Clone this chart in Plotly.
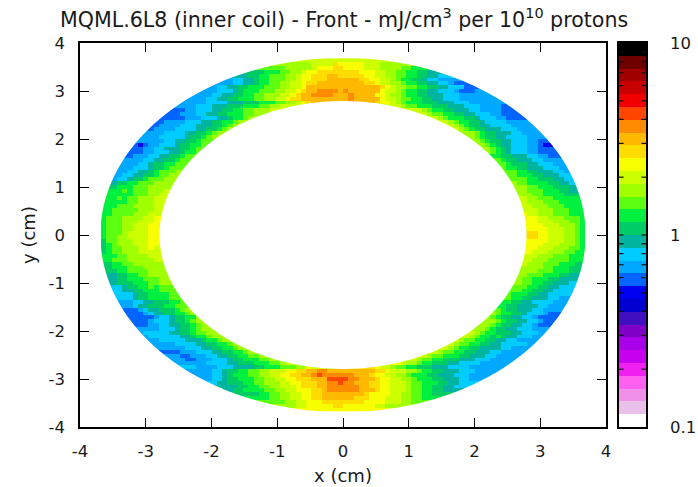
import math
import numpy as np
import plotly.graph_objects as go

TITLE = "MQML.6L8 (inner coil) - Front - mJ/cm<sup>3</sup> per 10<sup>10</sup> protons"
X_TICKS = [-4, -3, -2, -1, 0, 1, 2, 3, 4]
Y_TICKS = [-4, -3, -2, -1, 0, 1, 2, 3, 4]
BAR_LABELLED = [0.1, 1, 10]
BAR_MINOR = [0.2, 0.3, 0.4, 0.5, 0.6, 0.7, 0.8, 0.9, 2, 3, 4, 5, 6, 7, 8, 9]

# palette levels, from top of colour bar (10) to bottom (0.1)
LEVEL_CHARS = "0123456789abcdefghijklmnopqrst"
LEVEL_COLORS = [
    "#000000", "#6e0000", "#a00000", "#c80000", "#f00000", "#ff4500", "#ff8c00", "#ffb900",
    "#ffdc00", "#f8ff00", "#ccff00", "#a0ff00", "#5cff10", "#00f040", "#00cc66", "#00b4a0",
    "#00ccff", "#00a8ff", "#0064ff", "#0000f0", "#0000d0", "#4010c0", "#8000c8", "#a800e8",
    "#c800f0", "#f020f0", "#ff60f0", "#f090e8", "#e8c0e8", "#ffffff",
]

# dose level of every 0.08 cm cell, row by row from y=3.64 down
ROWS_TOP = [
    "aaaaaaaaaa",
    "bbbbbaaaa899999aaabbb",
    "cccbbbbba999889999aaabbbbccd",
    "eedddccbba9988888888999aabbccddeef",
    "ffeeddcccbba99888778888899aabbccddeeffg",
    "hggffeddcccbba998887777778899aabcddeefgghhh",
    "hhggffeddccbbaa988777777777889aabbcddeeffgghii",
    "hggffeedddcccbbaa97777777777777789abbccddeeffgggii",
    "hhgggfedddcccbbaa98776666767777779aabcddeeffggghiiih",
    "hhhggffeeddccbbbaa987766667776777799abbcddeefffggghhhhh",
    "hhhggffeedddccbbaa9887777777776777779aabccddeeffggghhhhhhh",
]
ROWS_UPPER = [
    "hhhggggfffeeedddccbba987 7899abcdddeeefffggghhhhh",
    "hhhgggfffeeedddccbbaa abccdddeeefffggghhhhi",
    "iihhgggffeeddccbbba aabcddeefffgghhhhii",
    "iihhhggffeedddccbb abccddeeffggghhiii",
    "iihhhgggffeddcb abcdddeefggghhiii",
    "iihhhhgggffeeddcb abcddeefgggghhhh",
    "ihhhhgggfffeedcb abcdeeffgggghhh",
    "hihhhhggggffeedcb abcdeefffggghhh",
    "hhhhhggggffeedcb bbcdeefffgghhh",
    "hhhhgggggfeedcb bcdeeffgggghhh",
    "hhhhhhggffeedcc bcdeeffggghhii",
    "ijihhgggfeeddc bcdeffggghhij",
    "iihhggfffeedc bcdefggghhiii",
    "iihhgggffeddc bcdefggghhiii",
    "ihhhggffeedcc ddeefffgghhii",
    "hhhggffeedcc cdeefffgghhh",
    "hhhggfeeddcc cdeeeffggghh",
    "hhgggfeedccc cddeefffgggh",
    "hhggffedcccb ccddeefffggh",
    "hggffeedccbb ccdddeefffgg",
    "hggfeedcccbb cccddeeeffgg",
    "feeddcccbbbb bccddddeeffg",
    "edddcccbbbb bbccdddeeef",
    "ddcdcccbbba bbcccdddeef",
    "ddddcccbbaa bbbccddddee",
    "ddcdccbbbaa abbcccddddd",
    "ddddccbbbaa abbbcccdddd",
    "ddcccbbbbaa aabbbcccddd",
    "dcccccbbbaa aaabbbcccdd",
    "dccccbbbaaa 9aabbbcccdd",
    "dcccbbbbaa9 99aabbbcccd",
    "dcccbbbaaa9 99aaabbbccd",
    "dcccbbaaa99 999aaabbbcd",
    "dcccbbaaa99 9999aaabbcd",
    "dcccbaaaa99 8899aaabbcd",
]
ROWS_LOWER = [
    "dccbbaaaa99 8899aaabbcd",
    "eccbbbaaa99 9999aaabbcd",
    "edcbbbaaa99 999aaabbbcd",
    "edccbbbaa9a 99aaabbbccd",
    "edccbbbaaaa 9aaabbbccdd",
    "ddccbbbbaaa aaabbbcccdd",
    "dcccbbbbbaa aabbbccccdd",
    "eddccbbbbbb abbbcccddde",
    "edddcccbbbb bbbbccdddee",
    "eeddccccbbb bbbcccdddee",
    "feeddccbbbb bbcccdddeef",
    "feedddcccbb bccdddeefff",
    "feeedddccbb bccddeefffg",
    "gfeeddcdccc cccddeeffgg",
    "gffeedddccc ccddeeffggg",
    "ggfeeddddcc cdddeeffggg",
    "gggfeeddddcc cddeefffggh",
    "hggffeeeddc ddeeffgggghh",
    "hhgffeeeddcc deeffffgghhh",
    "iihgffeeedcb cdeefffgghhh",
    "iihgffeeddcb bcddeefggghi",
    "iiihggfeeddb bcdeeffgghiii",
    "iiihgggfeedcb bbcdeeffgghiii",
    "iihhggffeedcb bbcdeeffgghiii",
    "hhhhgggfeedcbb bbcdeeffggghhh",
    "hgggggffeedccbb abcddeeeffgggh",
    "hggggggffeddcbb abcddedeffgggh",
    "hhgggggfffeddcbb abccddeeffgghhh",
    "hhhggggffeeddcb abccddeeffgggggh",
    "hhhhhgggffeeddcb abcddeeffffgghhh",
    "iihhhgggffeeddcb abccddeefffgghhh",
    "hiihhhggffeeddccb abccdddeefffgghhh",
    "hhiihhhgggfeedddccb abccddeeefffggghhhh",
    "hhhhhggggffeeedddccba 9abbcddeeeffgggghhhh",
    "ghhhhgggffffeedddcccbb9a 89aabccddeeefffgggghhhh",
]
ROWS_BOTTOM = [
    "hhhhggfeeddccbbaaa99887766777777777889aaabbcddeefffggghhhh",
    "hhhggfedddccbbaa99887765666666777899aabbcdddeefffggghhh",
    "hggfeedddccbbaa99888777555566777899aabbcdddeefffgghh",
    "gffeeeddccbbbaa9988877665667778899aaabccdddeeffggg",
    "fffeeddccbbaaa988877666666778899aaabccddeeffgg",
    "feeddddccbbaa999887666666777899aaabccddeeff",
    "eeeeddccbbaa99887777777789999aabbccddee",
    "dddccbbaa9988777777888999aaabbccdd",
    "cccbbaa999888888889999aaabbc",
    "bbaa9999988999999aabb",
    "9999999999",
]

GRID_STEP = 0.08
GRID_HALF = 3.68
OUTER_R = 3.69
INNER_R = 2.79


def level_value(ch):
    return 10 ** (1 - (LEVEL_CHARS.index(ch) + 0.5) / 15)


def fit_inner(seg, n):
    if len(seg) >= n:
        return seg[len(seg) - n:]
    return seg[0] * (n - len(seg)) + seg


def fit_center(seg, n):
    if len(seg) >= n:
        s = (len(seg) - n) // 2
        return seg[s:s + n]
    pad = n - len(seg)
    return seg[0] * (pad // 2) + seg + seg[-1] * (pad - pad // 2)


rows = ROWS_TOP + ROWS_UPPER + ROWS_LOWER + ROWS_BOTTOM
assert len(rows) == 92, len(rows)
n_cols = int(round(2 * GRID_HALF / GRID_STEP))
edges = [-GRID_HALF + i * GRID_STEP for i in range(n_cols + 1)]
z = [[None] * n_cols for _ in range(92)]
for r, text in enumerate(rows):
    yc = GRID_HALF - GRID_STEP * (r + 0.5)
    near = max(abs(yc) - GRID_STEP / 2, 0)
    xo = math.sqrt(max(OUTER_R ** 2 - near ** 2, 0))
    first = max(int(math.floor((-xo + GRID_HALF) / GRID_STEP)), 0)
    last = n_cols - 1 - first
    if " " in text:
        left, right = text.split(" ")
        xi = math.sqrt(max(INNER_R ** 2 - yc ** 2, 0))
        hole_l = int(round((-xi + GRID_HALF) / GRID_STEP))
        n = max(hole_l - first, 1)
        left = fit_inner(left, n)
        right = fit_inner(right[::-1], n)[::-1]
        mid = n_cols // 2
        for c in range(first, mid):
            k = c - first
            z[r][c] = level_value(left[min(k, n - 1)])
        for c in range(mid, last + 1):
            k = last - c
            z[r][c] = level_value(right[::-1][min(k, n - 1)])
    else:
        seg = fit_center(text, last - first + 1)
        for i, ch in enumerate(seg):
            z[r][first + i] = level_value(ch)

zlog = [[None if v is None else math.log10(v) for v in row] for row in z][::-1]
y_edges = edges

colorscale = []
bottom_up = LEVEL_COLORS[::-1]
for k, c in enumerate(bottom_up):
    colorscale.append([k / 30, c])
    colorscale.append([(k + 1) / 30, c])

fig = go.Figure()
fig.add_trace(go.Heatmap(x=edges, y=y_edges, z=zlog, zmin=-1, zmax=1, colorscale=colorscale,
                         showscale=False, hoverinfo="skip", zsmooth=False, xaxis="x", yaxis="y"))

bar_edges = [-1 + k * 2 / 30 for k in range(31)]
bar_vals = [[(bar_edges[k] + bar_edges[k + 1]) / 2] for k in range(30)]
fig.add_trace(go.Heatmap(x=[0, 1], y=bar_edges, z=bar_vals, zmin=-1, zmax=1, colorscale=colorscale,
                         showscale=False, hoverinfo="skip", xaxis="x2", yaxis="y2"))

# colour-bar ticks on both inner sides, above the palette
tick_x, tick_y = [], []
for v in BAR_LABELLED[1:2] + BAR_MINOR:
    ylog = math.log10(v)
    tick_x += [0, 0.17, None, 0.83, 1, None]
    tick_y += [ylog, ylog, None, ylog, ylog, None]
fig.add_trace(go.Scatter(x=tick_x, y=tick_y, mode="lines", line=dict(color="#111111", width=1.2),
                         hoverinfo="skip", xaxis="x2", yaxis="y2", showlegend=False))


def circle(r, reverse=False):
    t = np.linspace(0, 2 * np.pi, 361)
    if reverse:
        t = t[::-1]
    pts = [f"{r * math.cos(a):.4f},{r * math.sin(a):.4f}" for a in t]
    return "M" + " L".join(pts) + " Z"


mask_col = "white"
fig.add_shape(type="path", path=circle(INNER_R), fillcolor=mask_col, line_width=0, xref="x", yref="y", layer="above")
fig.add_shape(type="path", path=circle(3.81) + " " + circle(OUTER_R, True), fillcolor=mask_col, line_width=0,
              fillrule="evenodd", xref="x", yref="y", layer="above")

FONT = "DejaVu Sans, Verdana, sans-serif"
INK = "#1a1a1a"
axis_common = dict(showgrid=False, zeroline=False, showline=True, linecolor="black", linewidth=1.6,
                   mirror="allticks", ticks="inside", ticklen=9, tickwidth=1.2, tickcolor="black",
                   automargin=False, tickfont=dict(family=FONT, size=16.5, color=INK))

W, H = 698, 487
L, R_, T, B = 80, 646, 43, 427
pw = R_ - L
fig.update_layout(
    width=W, height=H, autosize=False, paper_bgcolor="white", plot_bgcolor="white",
    margin=dict(l=L, r=W - R_, t=T, b=H - B, pad=0),
    showlegend=False,
    xaxis=dict(axis_common, domain=[0, (606 - L) / pw], range=[-4, 4], tickvals=X_TICKS,
               ticktext=[str(v) for v in X_TICKS], anchor="y", ticklabelstandoff=8,
               title=dict(text="x (cm)", font=dict(family=FONT, size=18, color=INK), standoff=10)),
    yaxis=dict(axis_common, domain=[0, 1], range=[-4, 4], tickvals=Y_TICKS,
               ticktext=[str(v) for v in Y_TICKS], anchor="x", ticklabelstandoff=10,
               title=dict(text="y (cm)", font=dict(family=FONT, size=18, color=INK), standoff=8)),
    xaxis2=dict(domain=[(619 - L) / pw, 1], range=[0, 1], showticklabels=False, ticks="", showgrid=False,
                automargin=False, zeroline=False, showline=True, linecolor="black", linewidth=1.6,
                mirror=True, anchor="y2"),
    yaxis2=dict(axis_common, domain=[0, 1], range=[-1, 1], side="right", anchor="x2",
                ticks="", ticklabelstandoff=19,
                tickvals=[math.log10(v) for v in BAR_LABELLED],
                ticktext=[str(v) for v in BAR_LABELLED]),
    annotations=[dict(text=TITLE, xref="paper", yref="paper", x=(344 - L) / pw, y=1.0, yshift=9,
                      xanchor="center", yanchor="bottom", showarrow=False,
                      font=dict(family=FONT, size=20.6, color=INK))],
)

fig.write_html("out.html", config=dict(displayModeBar=False),
               post_script="document.body.style.margin='0';document.body.style.overflow='hidden';")
